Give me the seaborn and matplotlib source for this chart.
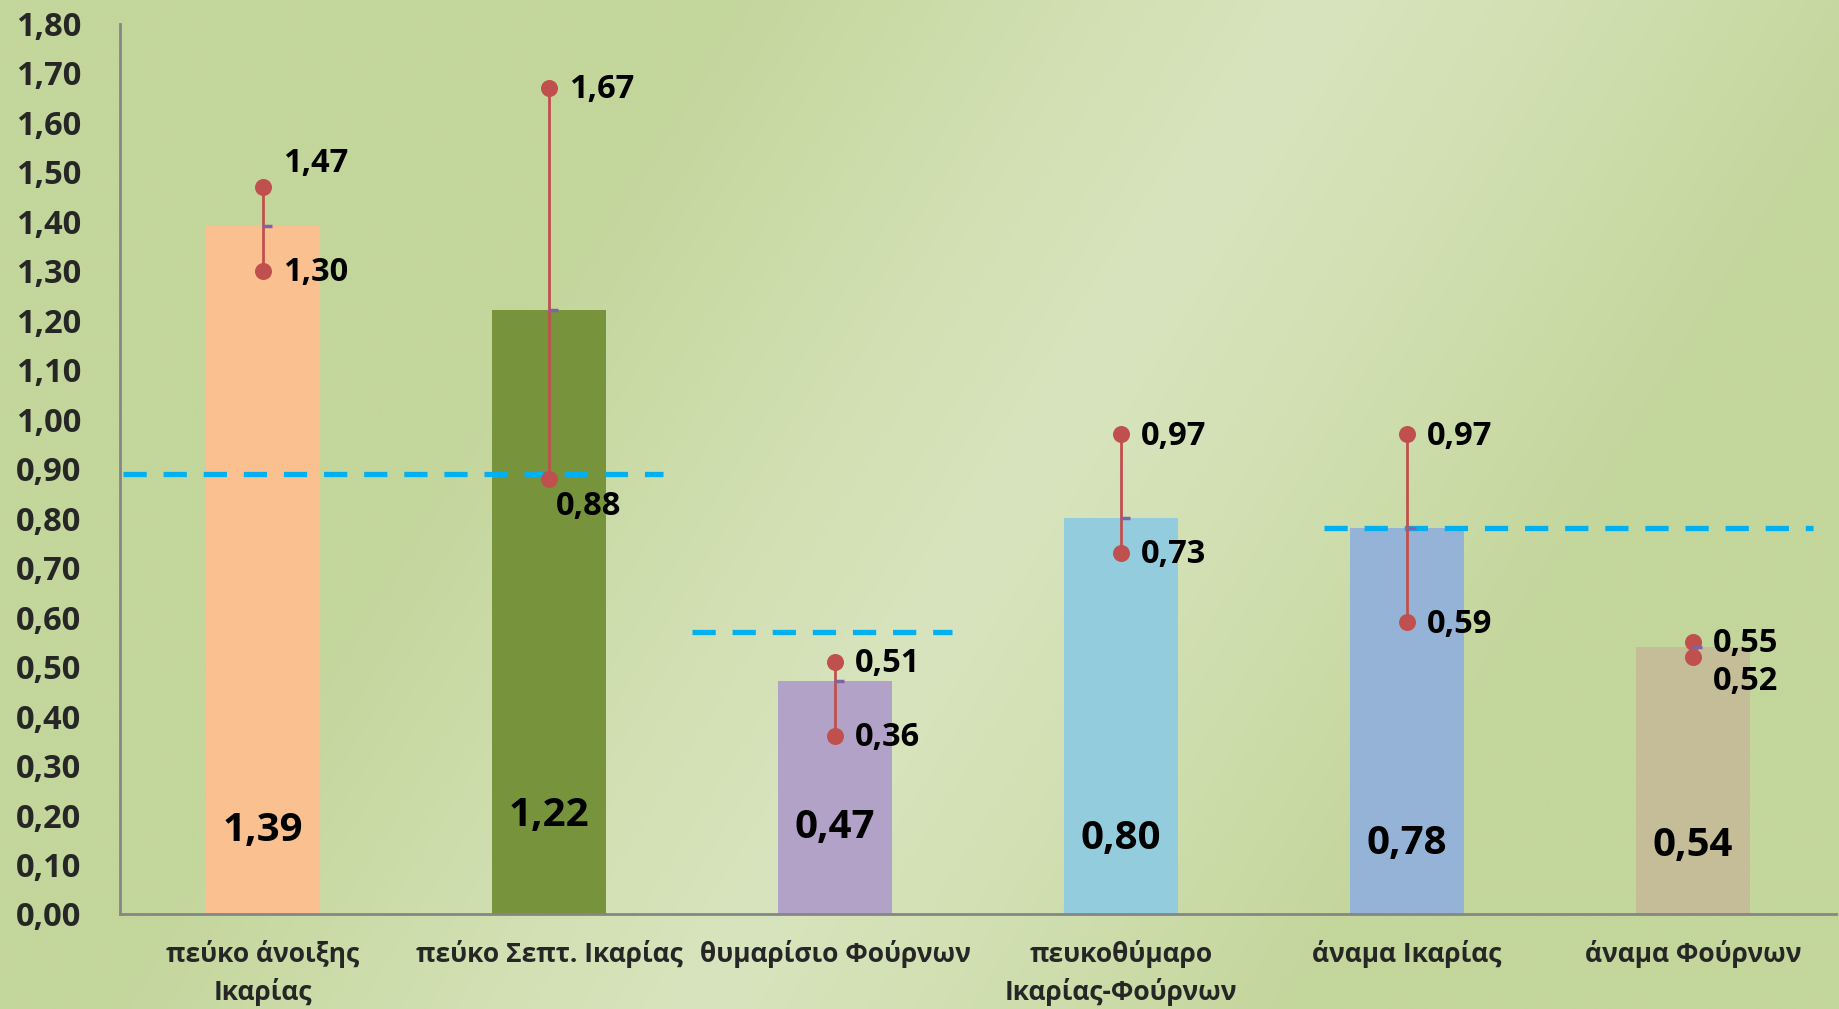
import numpy as np
import pandas as pd
import matplotlib
matplotlib.use("Agg")
import matplotlib.pyplot as plt
import matplotlib.transforms as mtransforms
from matplotlib.ticker import FixedLocator, FuncFormatter
import seaborn as sns

# ---------------- data ----------------
categories = ["πεύκο άνοιξης\nΙκαρίας", "πεύκο Σεπτ. Ικαρίας", "θυμαρίσιο Φούρνων",
              "πευκοθύμαρο\nΙκαρίας-Φούρνων", "άναμα Ικαρίας", "άναμα Φούρνων"]
mean_values = [1.39, 1.22, 0.47, 0.80, 0.78, 0.54]
max_values = [1.47, 1.67, 0.51, 0.97, 0.97, 0.55]
min_values = [1.30, 0.88, 0.36, 0.73, 0.59, 0.52]
ref_levels = [0.89, 0.57, 0.78]
ref_first_cat = [0, 2, 4]
ref_last_cat = [1, 2, 5]
y_ticks = [round(0.1 * i, 2) for i in range(19)]

# ---------------- style ----------------
bar_colors = ["#fac090", "#77933c", "#b3a2c7", "#93cddd", "#95b3d7", "#c4bd97"]
inner_label_y = [0.168, 0.199, 0.175, 0.152, 0.142, 0.138]
max_label_dy = [25, 0, 0, 0, 0, 0]      # pixels
min_label_dy = [0, -26, 0, 0, 0, -23]
min_label_dx = [20, 7, 20, 20, 20, 20]
ref_left_pad = [0.49, 0.50, 0.29]
ref_right_pad = [0.40, 0.41, 0.42]

sns.set_theme(style="white")
plt.rcParams["font.family"] = ["Open Sans", "DejaVu Sans"]
plt.rcParams["font.weight"] = "bold"

W, H = 1840, 1009
fig = plt.figure(figsize=(W / 100, H / 100), dpi=100)

# background gradient
bg = fig.add_axes([0, 0, 1, 1], zorder=-10)
u, v = np.meshgrid(np.linspace(0, 1, 400), np.linspace(1, 0, 220))
d = np.abs(u - (0.38 + 0.34 * v))
t = np.clip(d / 0.33, 0, 1) ** 1.2
light = np.array([216, 228, 189]) / 255
dark = np.array([195, 214, 155]) / 255
img = light[None, None, :] * (1 - t[..., None]) + dark[None, None, :] * t[..., None]
bg.imshow(img, aspect="auto", extent=[0, 1, 0, 1], interpolation="bilinear")
bg.axis("off")

ax = fig.add_axes([120 / W, 1 - 914 / H, (1836 - 120) / W, (914 - 23.5) / H])
ax.set_facecolor("none")

df = pd.DataFrame({"cat": categories, "val": mean_values})
sns.barplot(data=df, x="cat", y="val", hue="cat", palette=bar_colors, width=0.4,
            saturation=1, legend=False, ax=ax, zorder=2, linewidth=0, edgecolor="none")

xs = np.arange(len(categories))
red = "#c0504d"
for i in xs:
    ax.plot([i, i], [min_values[i], max_values[i]], color=red, lw=2, zorder=4)
ax.scatter(xs, max_values, s=150, color=red, zorder=5, linewidths=0)
ax.scatter(xs, min_values, s=150, color=red, zorder=5, linewidths=0)

# small mean marker
off = mtransforms.ScaledTranslation(4 / 100, 0, fig.dpi_scale_trans)
ax.plot(xs, mean_values, ls="none", marker="_", ms=7, mew=2.5, color="#8064a2",
        transform=ax.transData + off, zorder=5)

fmt = lambda v: f"{v:.2f}".replace(".", ",")
for i in xs:
    ax.annotate(fmt(max_values[i]), (i, max_values[i]), xytext=(20, max_label_dy[i] - 2),
                textcoords="offset pixels", ha="left", va="center", fontsize=23.5,
                fontweight="bold", color="black", zorder=6)
    ax.annotate(fmt(min_values[i]), (i, min_values[i]), xytext=(min_label_dx[i], min_label_dy[i] - 2),
                textcoords="offset pixels", ha="left", va="center", fontsize=23.5,
                fontweight="bold", color="black", zorder=6)
    ax.text(i, inner_label_y[i], fmt(mean_values[i]), ha="center", va="center",
            fontsize=29, fontweight="bold", color="black", zorder=6)

for lvl, a, b, lp, rp in zip(ref_levels, ref_first_cat, ref_last_cat, ref_left_pad, ref_right_pad):
    ax.plot([a - lp, b + rp], [lvl, lvl], color="#00b0f0", lw=3.8, ls=(0, (4.4, 3.2)), zorder=3,
            solid_capstyle="butt", dash_capstyle="butt")

ax.set_xlim(-0.5, len(categories) - 0.5)
ax.set_ylim(0, 1.8)
ax.yaxis.set_major_locator(FixedLocator(y_ticks))
ax.yaxis.set_major_formatter(FuncFormatter(lambda v, p: fmt(v)))
ax.set_xticks(xs)
ax.set_xticklabels(categories, fontsize=19, fontweight="bold", linespacing=1.45)
ax.set_xticks(np.arange(-0.5, len(categories)), minor=True)
ax.tick_params(axis="x", which="major", length=0, pad=19)
ax.tick_params(axis="x", which="minor", length=14, width=1.5, color="#868686", direction="out")
ax.tick_params(axis="y", length=13, width=1.5, color="#868686", direction="out", pad=15,
               labelsize=23.5)
for lab in ax.get_yticklabels():
    lab.set_fontweight("bold")
for s in ["top", "right"]:
    ax.spines[s].set_visible(False)
for s in ["left", "bottom"]:
    ax.spines[s].set_color("#868686")
    ax.spines[s].set_linewidth(2)
ax.set_xlabel("")
ax.set_ylabel("")
ax.grid(False)

fig.savefig("out.png", dpi=100)
